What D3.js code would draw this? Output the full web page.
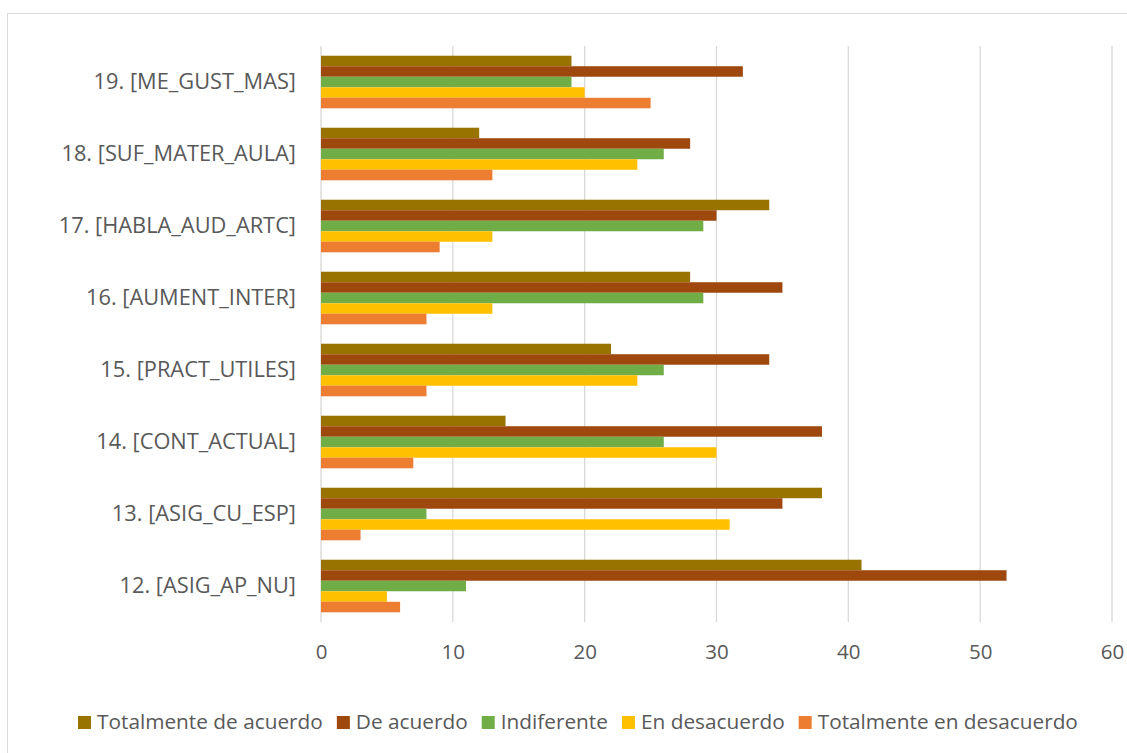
<!DOCTYPE html>
<html>
<head>
<meta charset="utf-8">
<script src="https://cdn.jsdelivr.net/npm/d3@7"></script>
<style>
  html, body { margin: 0; padding: 0; background: #fff; }
  svg { display: block; }
  text { font-family: "Open Sans", sans-serif; fill: #595959; }
</style>
</head>
<body>
<svg id="chart" width="1127" height="753"></svg>
<script>
// Survey items (top to bottom)
const categories = [
  "19. [ME_GUST_MAS]",
  "18. [SUF_MATER_AULA]",
  "17. [HABLA_AUD_ARTC]",
  "16. [AUMENT_INTER]",
  "15. [PRACT_UTILES]",
  "14. [CONT_ACTUAL]",
  "13. [ASIG_CU_ESP]",
  "12. [ASIG_AP_NU]"
];

const seriesNames = [
  "Totalmente de acuerdo",
  "De acuerdo",
  "Indiferente",
  "En desacuerdo",
  "Totalmente en desacuerdo"
];

// Response counts per item, same order as categories
const totalmenteDeAcuerdo    = [19, 12, 34, 28, 22, 14, 38, 41];
const deAcuerdo              = [32, 28, 30, 35, 34, 38, 35, 52];
const indiferente            = [19, 26, 29, 29, 26, 26,  8, 11];
const enDesacuerdo           = [20, 24, 13, 13, 24, 30, 31,  5];
const totalmenteEnDesacuerdo = [25, 13,  9,  8,  8,  7,  3,  6];

const xTicks = [0, 10, 20, 30, 40, 50, 60];

const seriesColors = ["#997300", "#9E480E", "#70AD47", "#FFC000", "#ED7D31"];

const seriesValues = [totalmenteDeAcuerdo, deAcuerdo, indiferente, enDesacuerdo, totalmenteEnDesacuerdo];

const svg = d3.select("#chart");

// Chart frame
svg.append("rect")
  .attr("x", 7.5).attr("y", 13.5)
  .attr("width", 1130).attr("height", 760)
  .attr("fill", "none")
  .attr("stroke", "#d9d9d9")
  .attr("stroke-width", 1);

const plot = { left: 321, right: 1112, top: 46, bottom: 622 };

const x = d3.scaleLinear().domain([0, 60]).range([plot.left, plot.right]);

const y = d3.scaleBand()
  .domain(categories)
  .range([plot.top, plot.bottom])
  .paddingInner(0.27)
  .paddingOuter(0.135);

const yInner = d3.scaleBand()
  .domain(seriesNames)
  .range([0, y.bandwidth()]);

// Vertical gridlines
svg.append("g")
  .selectAll("line")
  .data(xTicks)
  .join("line")
  .attr("x1", d => x(d)).attr("x2", d => x(d))
  .attr("y1", plot.top).attr("y2", plot.bottom)
  .attr("stroke", "#d9d9d9")
  .attr("stroke-width", 1.3);

// Bars
const groups = svg.append("g")
  .selectAll("g")
  .data(categories)
  .join("g")
  .attr("transform", d => `translate(0,${y(d)})`);

groups.selectAll("rect")
  .data((c, i) => seriesNames.map((s, k) => ({ s, k, v: seriesValues[k][i] })))
  .join("rect")
  .attr("x", x(0))
  .attr("y", d => yInner(d.s))
  .attr("width", d => x(d.v) - x(0))
  .attr("height", yInner.bandwidth())
  .attr("fill", d => seriesColors[d.k]);

// Category axis
const yAxis = svg.append("g")
  .attr("transform", `translate(${plot.left},0)`)
  .call(d3.axisLeft(y).tickSize(0).tickPadding(25));
yAxis.select(".domain").remove();
yAxis.selectAll("text")
  .style("font-size", "21.8px")
  .attr("fill", "#595959");

// Value axis
const xAxis = svg.append("g")
  .attr("transform", `translate(0,${plot.bottom})`)
  .call(d3.axisBottom(x).tickValues(xTicks).tickSize(0).tickPadding(22));
xAxis.select(".domain").remove();
xAxis.selectAll("text")
  .style("font-size", "20.5px")
  .attr("fill", "#595959");

// Legend
const legend = svg.append("g");
const legendItems = legend.selectAll("g")
  .data(seriesNames)
  .join("g");
legendItems.append("rect")
  .attr("width", 13).attr("height", 13)
  .attr("y", -6)
  .attr("fill", (d, i) => seriesColors[i]);
legendItems.append("text")
  .attr("x", 19)
  .attr("dy", "0.35em")
  .style("font-size", "20.8px")
  .text(d => d);

let lx = 78;
legendItems.each(function () {
  const g = d3.select(this);
  g.attr("transform", `translate(${lx},722)`);
  lx += 19 + g.select("text").node().getComputedTextLength() + 14;
});
</script>
</body>
</html>
